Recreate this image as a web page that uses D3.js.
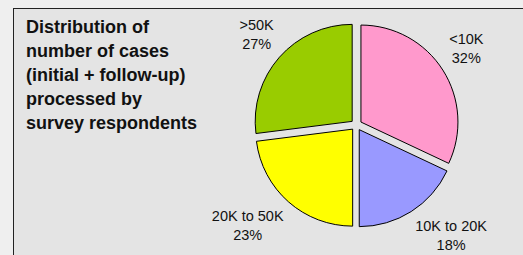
<!DOCTYPE html>
<html>
<head>
<meta charset="utf-8">
<script src="https://cdn.jsdelivr.net/npm/d3@7"></script>
<style>
  body { margin: 0; background: #efefef; }
  svg { display: block; font-family: "Liberation Sans", Arial, sans-serif; }
</style>
</head>
<body>
<div id="cases_pie"></div>
<script>
// Data
var categories = ["<10K", "10K to 20K", "20K to 50K", ">50K"]
var percents = [32, 18, 23, 27]
var colors = ["#ff99cc", "#9999ff", "#ffff00", "#99cc00"]
var titleLines = ["Distribution of", "number of cases", "(initial + follow-up)", "processed by", "survey respondents"]

// set the dimensions
var width = 523
    height = 255
    cx = 356.3
    cy = 125
    radius = 97
    explode = 5.5
    labelRadius = 110

var svg = d3.select("#cases_pie")
  .append("svg")
    .attr("width", width)
    .attr("height", height)

// Plot area box
svg.append("rect")
  .attr("x", 13.5)
  .attr("y", 8.5)
  .attr("width", width)
  .attr("height", height)
  .attr("fill", "#e4e4e4")
  .attr("stroke", "#222")
  .attr("stroke-width", 1)

// Title
svg.append("text")
  .attr("font-weight", "bold")
  .attr("font-size", "18px")
  .attr("fill", "#111")
  .selectAll("tspan")
  .data(titleLines)
  .enter()
  .append("tspan")
    .attr("x", 26)
    .attr("y", function(d, i) { return 32.5 + i * 24 })
    .text(function(d) { return d })

var color = d3.scaleOrdinal()
  .domain(categories)
  .range(colors)

var pie = d3.pie()
  .sort(null)
  .value(function(d) { return d.value })

var data_ready = pie(categories.map(function(c, i) { return {key: c, value: percents[i]} }))

var arc = d3.arc()
  .innerRadius(0)
  .outerRadius(radius)

var g = svg.append("g")
  .attr("transform", "translate(" + cx + "," + cy + ")")

function mid(d) { return (d.startAngle + d.endAngle) / 2 }

// Exploded slices
g.selectAll("slices")
  .data(data_ready)
  .enter()
  .append("path")
    .attr("d", arc)
    .attr("fill", function(d) { return color(d.data.key) })
    .attr("stroke", "#000")
    .attr("stroke-width", 1)
    .attr("transform", function(d) {
      var a = mid(d)
      return "translate(" + (explode * Math.sin(a)) + "," + (-explode * Math.cos(a)) + ")"
    })

// Labels: two lines, box pushed outward from the bisector point
var labels = g.selectAll("labels")
  .data(data_ready)
  .enter()
  .append("text")
    .attr("font-size", "14.5px")
    .attr("fill", "#111")
    .attr("text-anchor", "middle")

labels.append("tspan").attr("class", "l1").text(function(d) { return d.data.key })
labels.append("tspan").attr("class", "l2").text(function(d) { return d.data.value + "%" })

labels.each(function(d) {
  var t = d3.select(this)
  var w = Math.max(t.select(".l1").node().getComputedTextLength(), t.select(".l2").node().getComputedTextLength())
  var a = mid(d)
  var sx = Math.sin(a), sy = -Math.cos(a)
  var px = labelRadius * sx + (sx < 0 ? -1 : 1) * w / 2
  var py = labelRadius * sy + (sy < 0 ? -1 : 1) * 18
  t.select(".l1").attr("x", px).attr("y", py - 4.5)
  t.select(".l2").attr("x", px).attr("y", py + 14.5)
})
</script>
</body>
</html>
